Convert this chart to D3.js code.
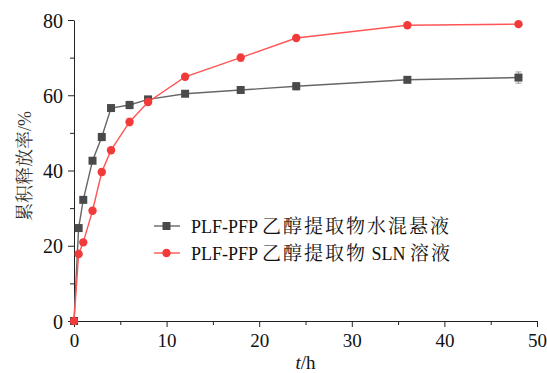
<!DOCTYPE html>
<html>
<head>
<meta charset="utf-8">
<script src="https://cdn.jsdelivr.net/npm/d3@7"></script>
<style>
  body { margin: 0; background: #fff; }
  svg text { font-family: "Liberation Serif", "Noto Serif CJK SC", serif !important; }
</style>
</head>
<body>
<svg width="547" height="373"></svg>
<script>
const times = [0, 0.5, 1, 2, 3, 4, 6, 8, 12, 18, 24, 36, 48];
const suspension = [0, 24.7, 32.2, 42.6, 48.9, 56.6, 57.4, 58.9, 60.4, 61.4, 62.4, 64.1, 64.7];
const suspensionErr = [0, 0.8, 0.6, 0.6, 1.0, 0.6, 1.0, 0.7, 0.6, 0.7, 1.0, 0.6, 1.5];
const sln = [0, 17.8, 20.9, 29.3, 39.6, 45.4, 52.9, 58.2, 64.9, 70.0, 75.2, 78.6, 78.9];
const slnErr = [0, 0.6, 0.6, 0.6, 0.8, 0.7, 1.0, 0.8, 0.6, 1.0, 0.5, 0.6, 0.6];
const seriesNames = ['PLF-PFP 乙醇提取物水混悬液', 'PLF-PFP 乙醇提取物 SLN 溶液'];
const xTicks = [0, 10, 20, 30, 40, 50];
const yTicks = [0, 20, 40, 60, 80];

const margin = { top: 20, right: 10, bottom: 52, left: 74 };
const width = 547 - margin.left - margin.right;
const height = 373 - margin.top - margin.bottom;

const svg = d3.select('svg')
    .append('g')
    .attr('transform', `translate(${margin.left},${margin.top})`);

const x = d3.scaleLinear().domain([0, 50]).range([0, width]);
const y = d3.scaleLinear().domain([0, 80]).range([height, 0]);

// minor ticks
svg.append('g')
    .attr('transform', `translate(0,${height})`)
    .call(d3.axisBottom(x).tickValues(d3.range(5, 50, 10)).tickSize(4).tickFormat(''))
    .call(g => g.select('.domain').remove());
svg.append('g')
    .call(d3.axisLeft(y).tickValues(d3.range(10, 80, 20)).tickSize(4).tickFormat(''))
    .call(g => g.select('.domain').remove());

svg.append('g')
    .attr('transform', `translate(0,${height})`)
    .call(d3.axisBottom(x).tickValues(xTicks).tickSize(6).tickSizeOuter(0))
    .call(g => g.selectAll('text').attr('font-size', 19).attr('fill', '#111').attr('dy', '0.9em'));

svg.append('g')
    .call(d3.axisLeft(y).tickValues(yTicks).tickSize(6).tickSizeOuter(0))
    .call(g => g.selectAll('text').attr('font-size', 20).attr('fill', '#111').attr('dx', '-0.1em').attr('dy', '0.35em'));

svg.selectAll('.domain, .tick line').attr('stroke', '#222');

const series = [
    { name: seriesNames[0], values: suspension, err: suspensionErr, color: '#4a4a4a', line: '#666', shape: 'square' },
    { name: seriesNames[1], values: sln, err: slnErr, color: '#f23a3a', line: '#f55', shape: 'circle' }
];

const line = d3.line().x((d, i) => x(times[i])).y(d => y(d));

series.forEach(s => {
    const g = svg.append('g');
    g.append('path')
        .datum(s.values)
        .attr('fill', 'none')
        .attr('stroke', s.line)
        .attr('stroke-width', 1.4)
        .attr('d', line);

    g.selectAll('.err')
        .data(s.values)
        .enter().append('path')
        .attr('stroke', s.line)
        .attr('stroke-opacity', 0.6)
        .attr('fill', 'none')
        .attr('d', (d, i) => {
            const cx = x(times[i]);
            const y0 = y(d - s.err[i]), y1 = y(d + s.err[i]);
            return `M${cx - 3},${y0}H${cx + 3}M${cx},${y0}V${y1}M${cx - 3},${y1}H${cx + 3}`;
        });

    if (s.shape === 'square') {
        g.selectAll('rect')
            .data(s.values)
            .enter().append('rect')
            .attr('x', (d, i) => x(times[i]) - 4)
            .attr('y', d => y(d) - 4)
            .attr('width', 8)
            .attr('height', 8)
            .attr('fill', s.color);
    } else {
        g.selectAll('circle')
            .data(s.values)
            .enter().append('circle')
            .attr('cx', (d, i) => x(times[i]))
            .attr('cy', d => y(d))
            .attr('r', 4.2)
            .attr('fill', s.color);
    }
});

// legend: latin runs and CJK runs get different sizes
const isCJK = c => /[\u3400-\u9fff]/.test(c);
function runs(str) {
    const out = [];
    for (const c of str) {
        const k = isCJK(c);
        if (out.length && out[out.length - 1].cjk === k) out[out.length - 1].t += c;
        else out.push({ t: c, cjk: k });
    }
    return out;
}

const legend = svg.append('g').attr('transform', `translate(${154 - margin.left},${226 - margin.top})`);
series.forEach((s, i) => {
    const row = legend.append('g').attr('transform', `translate(0,${i * 27})`);
    row.append('line').attr('x1', 0).attr('x2', 26).attr('stroke', s.line).attr('stroke-width', 1.4);
    if (s.shape === 'square') {
        row.append('rect').attr('x', 8.5).attr('y', -4).attr('width', 8).attr('height', 8).attr('fill', s.color);
    } else {
        row.append('circle').attr('cx', 12.5).attr('r', 4.2).attr('fill', s.color);
    }
    const t = row.append('text')
        .attr('x', 37)
        .attr('y', 6.5)
        .attr('fill', '#111');
    runs(s.name).forEach(r => {
        t.append('tspan')
            .attr('font-size', r.cjk ? 19 : 18)
            .attr('letter-spacing', r.cjk ? 2 : 0)
            .text(r.t);
    });
});

// axis labels
const xl = svg.append('text')
    .attr('x', width / 2)
    .attr('y', height + 48)
    .attr('text-anchor', 'middle')
    .attr('font-size', 19)
    .attr('fill', '#111');
xl.append('tspan').attr('font-style', 'italic').text('t');
xl.append('tspan').text('/h');

svg.append('text')
    .attr('transform', `translate(${-49},${146}) rotate(-90)`)
    .attr('text-anchor', 'middle')
    .attr('dy', '0.35em')
    .attr('font-size', 18)
    .attr('fill', '#333')
    .text('累积释放率/%');
</script>
</body>
</html>
